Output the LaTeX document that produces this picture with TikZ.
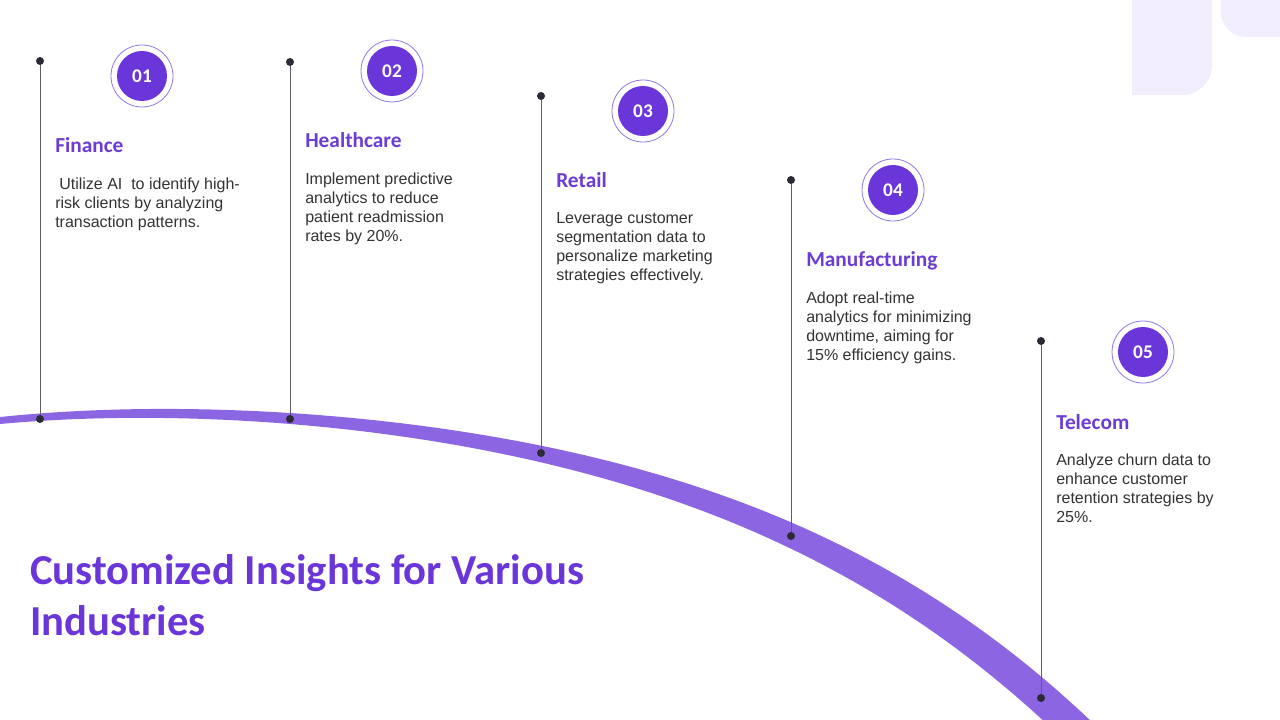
\documentclass[tikz,border=0pt]{standalone}
\usepackage{fontspec}
\setmainfont{Liberation Sans}
\newfontfamily\headfont{Carlito}
\usetikzlibrary{positioning}
\definecolor{insPurple}{HTML}{6A35D9}
\definecolor{insHead}{HTML}{6C3DD4}
\definecolor{insBand}{HTML}{8C66E2}
\definecolor{insRing}{HTML}{9277E3}
\definecolor{insLilac}{HTML}{F1EDFC}
\definecolor{insText}{HTML}{333333}
\definecolor{insStem}{HTML}{5E5E66}
\definecolor{insDot}{HTML}{2B2B38}
\tikzset{
  declare function={bandY(\s)=420.5-97.28*\s+369.1*\s^2-267.15*\s^3+238.13*\s^4;
                    bandW(\s)=7+12*\s+20*\s^3;},
  stemLine/.style={draw=insStem, line width=0.6pt},
  dotN/.style={circle, fill=insDot, inner sep=0pt, minimum size=6pt},
  ringN/.style={circle, draw=insRing, line width=0.6pt, inner sep=0pt, minimum size=46.5pt},
  badgeN/.style={circle, fill=insPurple, text=white, inner sep=0pt, minimum size=37.5pt,
                 font=\headfont\bfseries\fontsize{14.5}{16}\selectfont},
  headN/.style={anchor=base west, inner sep=0pt, text depth=0pt, text=insHead,
                font=\headfont\bfseries\fontsize{16}{19}\selectfont},
  bodyN/.style={anchor=north west, inner sep=0pt, align=left, text=insText,
                font=\fontsize{12}{14.25}\selectfont},
  titleN/.style={anchor=north west, inner sep=0pt, align=left, text=insPurple,
                 font=\headfont\bfseries\fontsize{32}{38.4}\selectfont},
}

\begin{document}
\begin{tikzpicture}[x=0.75pt, y=-0.75pt]
    \useasboundingbox (0,0) rectangle (1280,720);
    \fill[white] (0,0) rectangle (1280,720);
    \clip (0,0) rectangle (1280,720);

    % lilac tabs, top right
    \fill[insLilac, rounded corners=22.5pt] (1132,-100) rectangle (1212,95);
    \fill[insLilac] (1132,-100) rectangle (1180,95);
    \fill[insLilac, rounded corners=18.75pt] (1221,-100) rectangle (1380,37);

    % curved band
    \fill[insBand] plot[domain=-0.02:1.16, samples=120] ({1000*\x}, {bandY(\x)-bandW(\x)/2})
      -- plot[domain=1.16:-0.02, samples=120] ({1000*\x}, {bandY(\x)+bandW(\x)/2}) -- cycle;

    % stems
    \node[dotN] (t1) at (40,61) {};   \node[dotN] (b1) at (40,419) {};
    \node[dotN] (t2) at (290,62) {};  \node[dotN] (b2) at (290,419) {};
    \node[dotN] (t3) at (541,96) {};  \node[dotN] (b3) at (541,453) {};
    \node[dotN] (t4) at (791,180) {}; \node[dotN] (b4) at (791,536) {};
    \node[dotN] (t5) at (1041,341) {}; \node[dotN] (b5) at (1041,698) {};
    \draw[stemLine] (t1) -- (b1); \draw[stemLine] (t2) -- (b2); \draw[stemLine] (t3) -- (b3);
    \draw[stemLine] (t4) -- (b4); \draw[stemLine] (t5) -- (b5);

    % badges
    \node[ringN] (r1) at (142,76) {};  \node[badgeN] (n1) at (r1) {01};
    \node[ringN] (r2) at (392,71) {};  \node[badgeN] (n2) at (r2) {02};
    \node[ringN] (r3) at (643,111) {}; \node[badgeN] (n3) at (r3) {03};
    \node[ringN] (r4) at (893,190) {}; \node[badgeN] (n4) at (r4) {04};
    \node[ringN] (r5) at (1143,352) {}; \node[badgeN] (n5) at (r5) {05};

    % headings and texts
    \node[headN] (h1) at (55,153) {Finance};
    \node[bodyN, below=18pt of h1.south west, anchor=north west] (d1)
      {\hspace{3pt}Utilize AI\ \ to identify high-\\risk clients by analyzing\\transaction patterns.};
    \node[headN] (h2) at (305,148) {Healthcare};
    \node[bodyN, below=18pt of h2.south west, anchor=north west] (d2)
      {Implement predictive\\analytics to reduce\\patient readmission\\rates by 20\%.};
    \node[headN] (h3) at (556,188) {Retail};
    \node[bodyN, below=18pt of h3.south west, anchor=north west] (d3)
      {Leverage customer\\segmentation data to\\personalize marketing\\strategies effectively.};
    \node[headN] (h4) at (806,267) {Manufacturing};
    \node[bodyN, below=18pt of h4.south west, anchor=north west] (d4)
      {Adopt real-time\\analytics for minimizing\\downtime, aiming for\\15\% efficiency gains.};
    \node[headN] (h5) at (1056,429) {Telecom};
    \node[bodyN, below=18pt of h5.south west, anchor=north west] (d5)
      {Analyze churn data to\\enhance customer\\retention strategies by\\25\%.};

    \node[titleN] (title) at (30,554) {Customized Insights for Various\\Industries};
\end{tikzpicture}
\end{document}
